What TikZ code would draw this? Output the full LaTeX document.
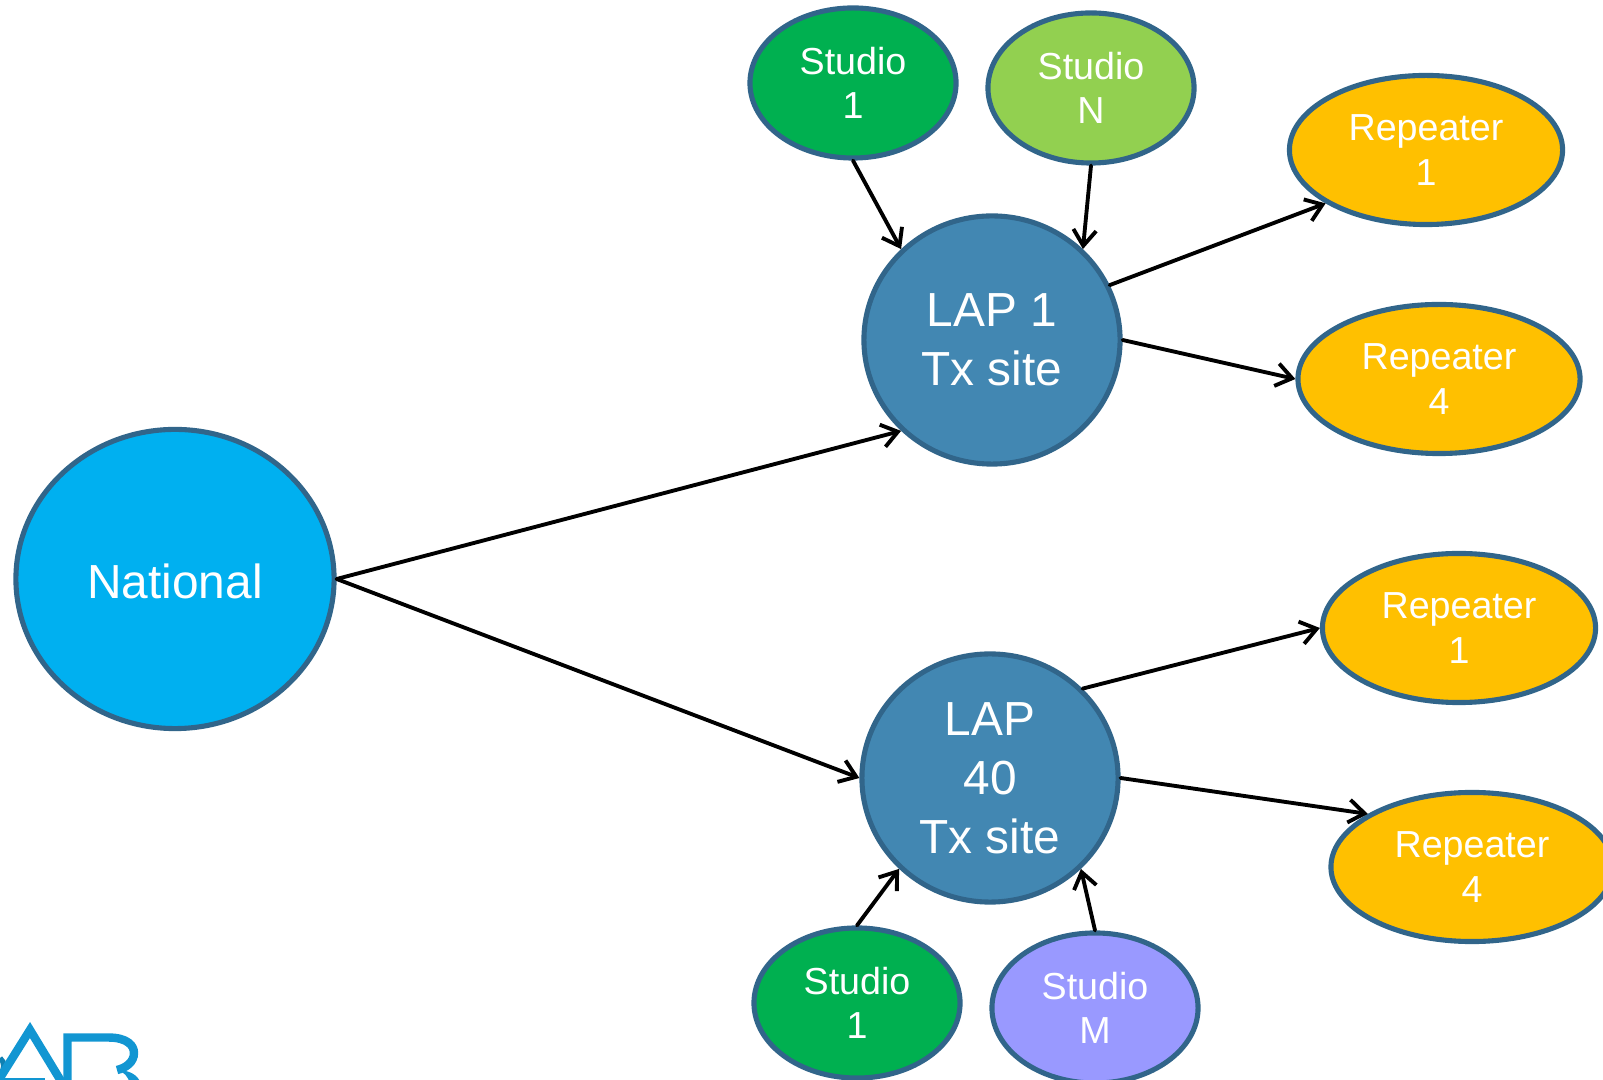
\documentclass[tikz,border=0pt]{standalone}
\usepackage{fontspec}
\setmainfont{Liberation Sans}
\usetikzlibrary{arrows.meta,shapes.geometric}
\definecolor{rim}{HTML}{31658A}
\definecolor{lapblue}{HTML}{4287B2}
\definecolor{natblue}{HTML}{00B0F0}
\definecolor{studiogreen}{HTML}{00B050}
\definecolor{studiolime}{HTML}{92D050}
\definecolor{studioviolet}{HTML}{9999FF}
\definecolor{repyellow}{HTML}{FFC000}
\definecolor{logoblue}{HTML}{1296D2}
\tikzset{
  blob/.style={draw=rim,ellipse,line width=1.45pt,text=white,align=center,inner sep=0pt},
  big/.style={blob,font=\fontsize{13.6}{16.8}\selectfont,execute at begin node={\rule{0pt}{12.9pt}}},
  small/.style={blob,font=\fontsize{10.7}{12.6}\selectfont,execute at begin node={\rule{0pt}{9.7pt}}},
  studio/.style={small,minimum width=2.06cm,minimum height=1.5cm},
  repeater/.style={small,fill=repyellow,minimum width=2.73cm,minimum height=1.49cm},
  widerep/.style={repeater,minimum width=2.82cm},
  lap/.style={big,fill=lapblue,minimum width=2.56cm,minimum height=2.48cm},
  link/.style={line width=1.1pt,line cap=round,-{Straight Barb[length=4.5pt,width=6.5pt,line width=1.1pt]}},
}
\begin{document}
\begin{tikzpicture}[x=0.01cm,y=-0.01cm]
\useasboundingbox (0,0) rectangle (1603,1080);
\clip (0,0) rectangle (1603,1080);
% logo, cut off by the page edge
\draw[logoblue!85!black,line width=1.5pt] (0,1058) .. controls (5,1062) and (5,1070) .. (0,1074);
\draw[logoblue,line width=2.4pt,line join=miter] (-12,1097) -- (30,1030) -- (64,1086);
\draw[logoblue,line width=2.4pt] (0,1082) -- (45,1082);
\draw[logoblue,line width=2.4pt] (67.5,1086) -- (67.5,1037.5) -- (108,1037.5) .. controls (128,1037.5) and (134,1046) .. (134,1053) .. controls (134,1062) and (126,1068) .. (117,1070);
\fill[logoblue] (117,1070) .. controls (128,1070) and (138,1074) .. (141,1084) -- (130,1084) .. controls (128,1076) and (124,1072) .. (117,1070);
% nodes
\node[blob,font=\fontsize{13.6}{16.8}\selectfont,fill=natblue,minimum width=3.18cm,minimum height=2.99cm,execute at begin node={\rule{0pt}{11.1pt}}] (national) at (175,579) {National};
\node[lap] (lapone) at (992,340) {LAP 1\\Tx site};
\node[lap] (lapforty) at (990,778) {LAP\\40\\Tx site};
\foreach \name/\x/\y/\col/\txt in {studioa/853/83/studiogreen/1,studiob/1091/88/studiolime/N,studioc/857/1003/studiogreen/1,studiod/1095/1008/studioviolet/M}
  \node[studio,fill=\col] (\name) at (\x,\y) {Studio\\\txt};
\node[repeater] (repa) at (1426,150) {Repeater\\1};
\node[widerep] (repb) at (1439,379) {Repeater\\4};
\node[repeater] (repc) at (1459,628) {Repeater\\1};
\node[widerep] (repd) at (1472,867) {Repeater\\4};
% connectors
\draw[link] (national.east) -- (lapone.225);
\draw[link] (national.east) -- (lapforty.west);
\draw[link] (studioa.south) -- (lapone.135);
\draw[link] (studiob.south) -- (lapone.45);
\draw[link] (lapone.25) -- (repa.208);
\draw[link] (lapone.east) -- (repb.west);
\draw[link] (lapforty.44) -- (repc.west);
\draw[link] (lapforty.east) -- (repd.153);
\draw[link] (studioc.north) -- (lapforty.225);
\draw[link] (studiod.north) -- (lapforty.315);
\end{tikzpicture}
\end{document}
